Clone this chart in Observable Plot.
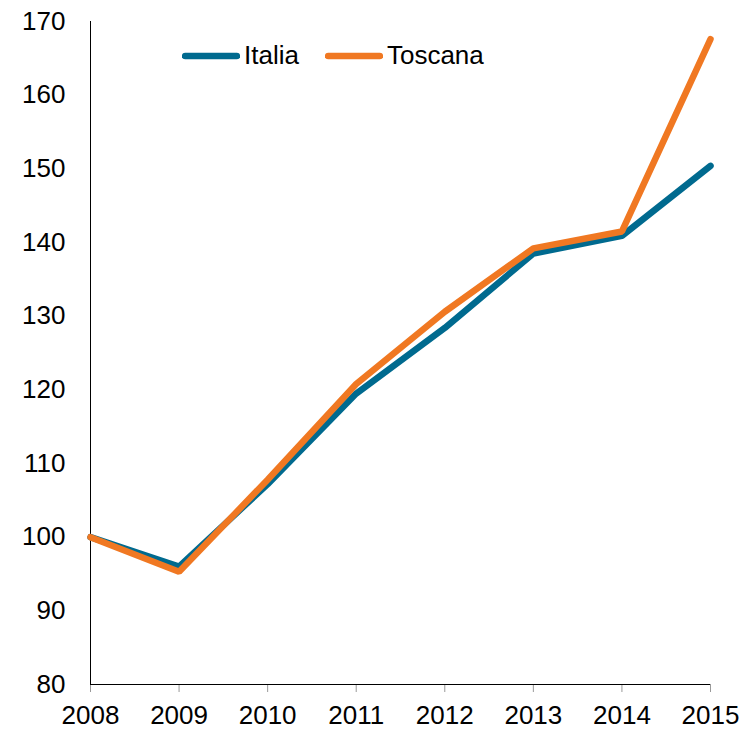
<!DOCTYPE html>
<html>
<head>
<meta charset="utf-8">
<script src="https://cdn.jsdelivr.net/npm/d3@7"></script>
<script src="https://cdn.jsdelivr.net/npm/@observablehq/plot@0.6"></script>
<style>
  body { margin: 0; background: #fff; font-family: "Liberation Sans", Arial, sans-serif; }
  #wrap { position: relative; width: 746px; height: 729px; }
  #legend { position: absolute; left: 182px; top: 40px; display: flex; align-items: center; font-size: 26px; color: #000; }
  #legend .item { display: flex; align-items: center; margin-right: 26px; }
  #legend svg { display: block; margin-right: 4px; }
</style>
</head>
<body>
<div id="wrap"><div id="legend"></div></div>
<script>
const years = [2008, 2009, 2010, 2011, 2012, 2013, 2014, 2015];
const italia = [100, 96.0, 107.2, 119.5, 128.4, 138.5, 140.9, 150.4];
const toscana = [100, 95.3, 107.8, 120.8, 130.6, 139.2, 141.5, 167.6];
const seriesNames = ["Italia", "Toscana"];
const seriesColors = ["#006A8F", "#F07822"];
const yTicks = [80, 90, 100, 110, 120, 130, 140, 150, 160, 170];

const rows = [];
years.forEach((y, i) => rows.push({year: y, value: italia[i], serie: "Italia"}));
years.forEach((y, i) => rows.push({year: y, value: toscana[i], serie: "Toscana"}));

const chart = Plot.plot({
  width: 746,
  height: 729,
  marginLeft: 90,
  marginRight: 36,
  marginTop: 21,
  marginBottom: 45,
  style: {fontFamily: "'Liberation Sans', Arial, sans-serif", fontSize: "26px", background: "#fff"},
  x: {domain: [2008, 2015]},
  y: {domain: [80, 170]},
  color: {domain: seriesNames, range: seriesColors},
  marks: [
    Plot.axisY({ticks: yTicks, tickSize: 0, tickPadding: 25, label: null, fill: "#000"}),
    Plot.axisX({ticks: years, tickFormat: d3.format("d"), tickSize: 8, tickPadding: 13, label: null, stroke: "#999", fill: "#000"}),
    Plot.ruleX([2008], {stroke: "#000", strokeWidth: 1}),
    Plot.ruleY([80], {stroke: "#000", strokeWidth: 1}),
    Plot.line(rows, {x: "year", y: "value", z: "serie", stroke: "serie", strokeWidth: 6.5, strokeLinecap: "round", strokeLinejoin: "miter"})
  ]
});
document.getElementById("wrap").prepend(chart);

const legend = document.getElementById("legend");
seriesNames.forEach((name, i) => {
  const item = document.createElement("div");
  item.className = "item";
  item.innerHTML = `<svg width="58" height="10"><line x1="3" y1="5" x2="55" y2="5" stroke="${seriesColors[i]}" stroke-width="6.5" stroke-linecap="round"/></svg><span>${name}</span>`;
  legend.appendChild(item);
});
</script>
</body>
</html>
